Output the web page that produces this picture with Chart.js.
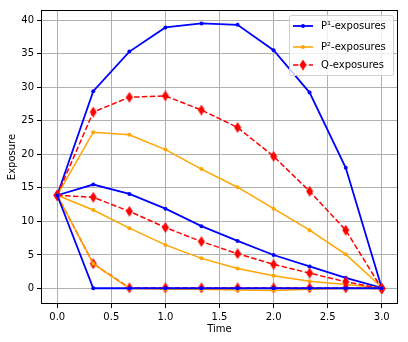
<!DOCTYPE html>
<html>
<head>
<meta charset="utf-8">
<script src="https://cdn.jsdelivr.net/npm/chart.js@4/dist/chart.umd.min.js"></script>
<style>
  html, body { margin: 0; padding: 0; background: #fff; }
  #wrap { width: 408px; height: 342px; }
</style>
</head>
<body>
<div id="wrap"><canvas id="c" width="408" height="342"></canvas></div>
<script>
// ---- data ----
var times = [0, 0.333, 0.667, 1.0, 1.333, 1.667, 2.0, 2.333, 2.667, 3.0];

var p1Upper  = [13.9, 29.4, 35.3, 38.9, 39.5, 39.3, 35.5, 29.2, 18.0, 0.1];
var p1Middle = [13.9, 15.5, 14.1, 11.9,  9.3,  7.1,  5.0,  3.3,  1.6, 0.1];
var p1Lower  = [13.9, 0.05, 0.05, 0.05, 0.05, 0.05, 0.05, 0.05, 0.05, 0.05];

var p2Upper  = [13.9, 23.3, 22.9, 20.7, 17.8, 15.1, 11.9,  8.7,  5.1, 0.2];
var p2Middle = [13.9, 11.7,  9.0,  6.5,  4.5,  3.0,  1.9,  1.1,  0.6, 0.1];
var p2Lower  = [13.9,  3.7,  0.0, -0.1, -0.1, -0.2, -0.3, -0.1,  0.0, 0.0];

var qUpper   = [13.9, 26.3, 28.5, 28.7, 26.6, 24.0, 19.7, 14.5,  8.7, 0.0];
var qMiddle  = [13.9, 13.6, 11.5,  9.1,  7.0,  5.2,  3.6,  2.3,  1.0, 0.0];
var qLower   = [13.9,  3.7,  0.1,  0.1,  0.1,  0.1,  0.1,  0.1,  0.1, 0.0];

var xTicks = [0, 0.5, 1.0, 1.5, 2.0, 2.5, 3.0];
var yTicks = [0, 5, 10, 15, 20, 25, 30, 35, 40];
var legendLabels = ['P\u00b9-exposures', 'P\u00b2-exposures', 'Q-exposures'];

var BLUE = '#0000ff', ORANGE = '#ffa500', RED = '#ff0000';
var FONT = 'DejaVu Sans';

// thin diamond marker like matplotlib 'd'
function makeDiamond() {
    var cv = document.createElement('canvas');
    cv.width = 8; cv.height = 11;
    var g = cv.getContext('2d');
    g.fillStyle = RED;
    g.beginPath();
    g.moveTo(4, 0); g.lineTo(7.5, 5.5); g.lineTo(4, 11); g.lineTo(0.5, 5.5);
    g.closePath(); g.fill();
    return cv;
}
var diamond = makeDiamond();

function pts(arr) { return arr.map(function(v, i){ return { x: times[i], y: v }; }); }

function pSet(arr, color, width, group, order) {
    return { data: pts(arr), borderColor: color, backgroundColor: color, borderWidth: width,
             pointRadius: 2, pointBorderWidth: 0, pointStyle: 'circle', group: group, order: order, tension: 0 };
}
function qSet(arr, order) {
    return { data: pts(arr), borderColor: RED, backgroundColor: RED, borderWidth: 1.5, borderDash: [5.5, 2.4],
             pointStyle: diamond, pointRadius: 5, group: 2, order: order, tension: 0 };
}

var datasets = [
    pSet(p1Upper, BLUE, 1.8, 0, 9), qSet(qUpper, 7), pSet(p2Upper, ORANGE, 1.5, 1, 8),
    pSet(p1Middle, BLUE, 1.8, 0, 6), qSet(qMiddle, 4), pSet(p2Middle, ORANGE, 1.5, 1, 5),
    pSet(p1Lower, BLUE, 1.8, 0, 1), qSet(qLower, 3), pSet(p2Lower, ORANGE, 1.5, 1, 2)
];

var framePlugin = {
    id: 'frame',
    afterDatasetsDraw: function(chart) {
        var a = chart.chartArea, ctx = chart.ctx;
        ctx.save();
        ctx.strokeStyle = '#000'; ctx.lineWidth = 1;
        ctx.strokeRect(Math.round(a.left) + 0.5, Math.round(a.top) + 0.5,
                       Math.round(a.right - a.left) - 1, Math.round(a.bottom - a.top) - 1);
        ctx.restore();
    }
};

var legendPlugin = {
    id: 'boxLegend',
    afterDraw: function(chart) {
        var ctx = chart.ctx;
        var x0 = 289, y0 = 15, w = 104, h = 60;
        ctx.save();
        ctx.fillStyle = 'rgba(255,255,255,0.8)';
        ctx.strokeStyle = '#d0d0d0'; ctx.lineWidth = 1;
        ctx.beginPath();
        ctx.roundRect(x0 + 0.5, y0 + 0.5, w, h, 2);
        ctx.fill(); ctx.stroke();
        var rows = [26, 47, 65];
        var colors = [BLUE, ORANGE, RED];
        ctx.font = '10px "' + FONT + '"';
        ctx.textBaseline = 'middle';
        for (var i = 0; i < 3; i++) {
            var y = rows[i];
            ctx.strokeStyle = colors[i];
            ctx.lineWidth = i === 0 ? 1.8 : 1.5;
            ctx.setLineDash(i === 2 ? [5.5, 2.4] : []);
            ctx.beginPath(); ctx.moveTo(293, y); ctx.lineTo(313, y); ctx.stroke();
            ctx.setLineDash([]);
            if (i < 2) {
                ctx.fillStyle = colors[i];
                ctx.beginPath(); ctx.arc(303, y, 2, 0, Math.PI * 2); ctx.fill();
            } else {
                ctx.drawImage(diamond, 299, y - 5.5);
            }
            ctx.fillStyle = '#000';
            ctx.fillText(legendLabels[i], 321, y);
        }
        ctx.restore();
    }
};

new Chart(document.getElementById('c'), {
    type: 'line',
    data: { datasets: datasets },
    options: {
        responsive: false, animation: false,
        layout: { padding: { top: 10, right: 10, left: 0, bottom: 0 } },
        plugins: { legend: { display: false }, tooltip: { enabled: false } },
        scales: {
            x: {
                type: 'linear', min: -0.15, max: 3.15,
                afterBuildTicks: function(s){ s.ticks = xTicks.map(function(v){ return { value: v }; }); },
                afterFit: function(s){ s.height = 38; },
                grid: { color: '#b0b0b0', lineWidth: 1, tickLength: 4, tickColor: '#000' },
                border: { display: false },
                ticks: { color: '#000', font: { family: FONT, size: 10 }, padding: 3, maxRotation: 0,
                         callback: function(v){ return v.toFixed(1); } },
                title: { display: true, text: 'Time', color: '#000', font: { family: FONT, size: 10 },
                         padding: { top: 2, bottom: 7 } }
            },
            y: {
                type: 'linear', min: -2.3, max: 41.5,
                afterBuildTicks: function(s){ s.ticks = yTicks.map(function(v){ return { value: v }; }); },
                afterFit: function(s){ s.width = 41; },
                grid: { color: '#b0b0b0', lineWidth: 1, tickLength: 4, tickColor: '#000' },
                border: { display: false },
                ticks: { color: '#000', font: { family: FONT, size: 10 }, padding: 3 },
                title: { display: true, text: 'Exposure', color: '#000', font: { family: FONT, size: 10 },
                         padding: { top: 6, bottom: 2 } }
            }
        }
    },
    plugins: [framePlugin, legendPlugin]
});
</script>
</body>
</html>
